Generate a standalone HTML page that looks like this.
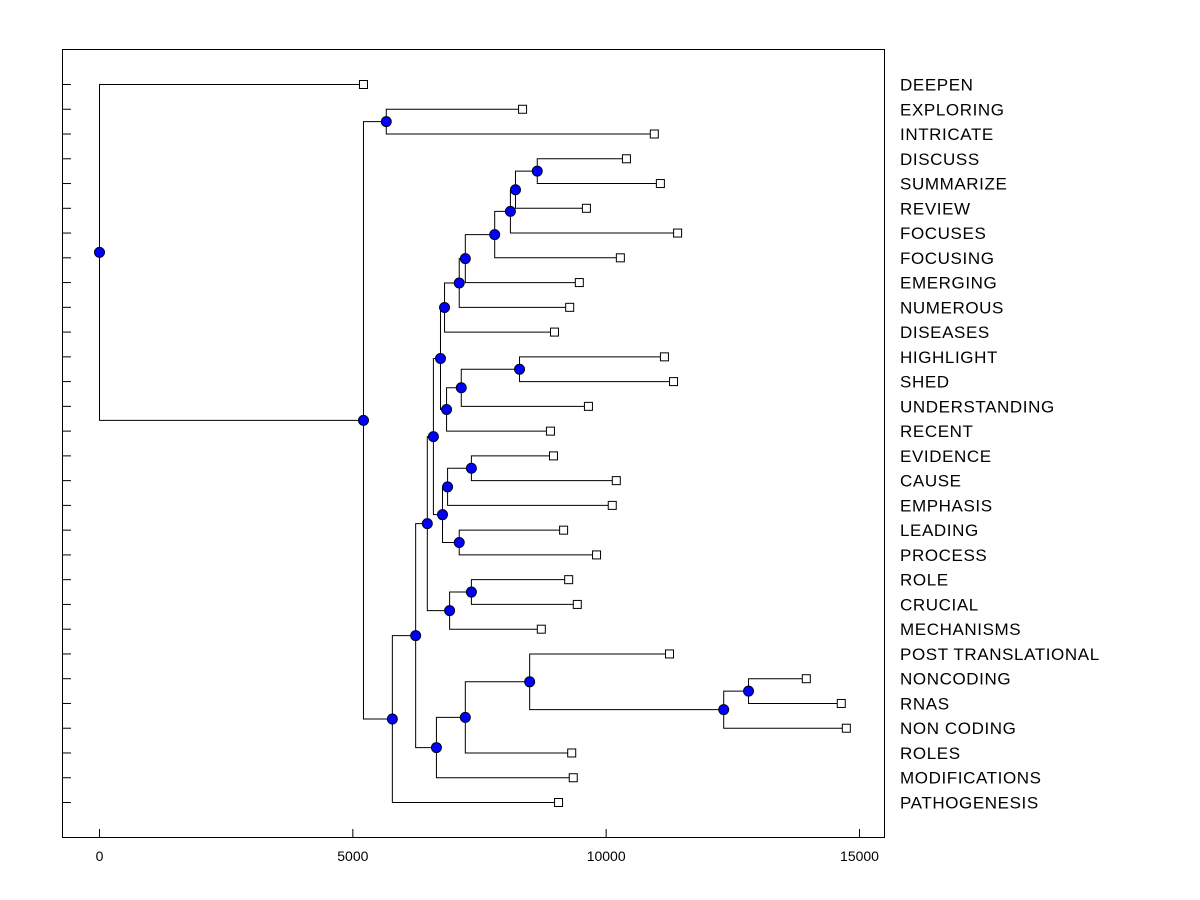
<!DOCTYPE html>
<html><head><meta charset="utf-8"><style>
body{margin:0;background:#fff;}
svg{display:block;font-family:"Liberation Sans",Arial,sans-serif;}
</style></head><body>
<svg id="chart" width="1200" height="900" viewBox="0 0 1200 900" xmlns="http://www.w3.org/2000/svg">
<rect x="62.5" y="49.5" width="822" height="788" fill="#fff" stroke="#000" stroke-width="1"/>
<g id="g"></g>
</svg>
<script>
const leaves=["DEEPEN","EXPLORING","INTRICATE","DISCUSS","SUMMARIZE","REVIEW","FOCUSES","FOCUSING","EMERGING","NUMEROUS","DISEASES","HIGHLIGHT","SHED","UNDERSTANDING","RECENT","EVIDENCE","CAUSE","EMPHASIS","LEADING","PROCESS","ROLE","CRUCIAL","MECHANISMS","POST TRANSLATIONAL","NONCODING","RNAS","NON CODING","ROLES","MODIFICATIONS","PATHOGENESIS"];
const leafValues=[5210,8350,10950,10400,11070,9610,11410,10280,9470,9280,8980,11150,11330,9650,8900,8960,10200,10120,9160,9810,9260,9430,8720,11250,13950,14640,14740,9320,9350,9060];
const nodeNames=["R","Q","P","O","N","M","K","T","S","L","I","W","U","V","J","G","X","H","E","AB","AA","Z","Y","F","D","C","B","A","ROOT"];
const nodeValues=[8640,8210,8110,7800,7220,7100,6810,8290,7140,6850,6730,7340,6870,7100,6770,6590,7340,6910,6470,12810,12320,8490,7220,6650,6240,5780,5660,5210,0];
const nodeChildren=[["DISCUSS","SUMMARIZE"],["R","REVIEW"],["Q","FOCUSES"],["P","FOCUSING"],["O","EMERGING"],["N","NUMEROUS"],["M","DISEASES"],["HIGHLIGHT","SHED"],["T","UNDERSTANDING"],["S","RECENT"],["K","L"],["EVIDENCE","CAUSE"],["W","EMPHASIS"],["LEADING","PROCESS"],["U","V"],["I","J"],["ROLE","CRUCIAL"],["X","MECHANISMS"],["G","H"],["NONCODING","RNAS"],["AB","NON CODING"],["POST TRANSLATIONAL","AA"],["Z","ROLES"],["Y","MODIFICATIONS"],["E","F"],["D","PATHOGENESIS"],["EXPLORING","INTRICATE"],["B","C"],["DEEPEN","A"]];
const xTicks=[0,5000,10000,15000];

const X=v=>99.5+v*(859.5-99.5)/15000;
const Yi=i=>84.5+i*(802.5-84.5)/29;
const g=document.getElementById('g');
const NS="http://www.w3.org/2000/svg";
function mk(t,a){const e=document.createElementNS(NS,t);for(const k in a)e.setAttribute(k,a[k]);g.appendChild(e);return e;}
const pos={};
leaves.forEach((n,i)=>{pos[n]={x:X(leafValues[i]),y:Yi(i)};});
nodeNames.forEach((n,i)=>{const a=pos[nodeChildren[i][0]],b=pos[nodeChildren[i][1]];pos[n]={x:X(nodeValues[i]),y:(a.y+b.y)/2};});
leaves.forEach((n,i)=>{
 const y=Yi(i);
 const t=mk('line',{x1:62.5,x2:71,y1:y,y2:y,stroke:'#000'});
 
 
 const l=mk('text',{x:900,y:y+6,'font-size':17,'letter-spacing':0.6,fill:'#000'});
 l.textContent=n;
 
 
});
xTicks.forEach(v=>{
 const x=X(v);
 const t=mk('line',{x1:x,x2:x,y1:837.5,y2:829,stroke:'#000'});
 
 
 const l=mk('text',{x:x,y:861,'font-size':14,'text-anchor':'middle',fill:'#000'});
 l.textContent=v;
 
 
});
nodeNames.forEach((n,i)=>{
 const p=pos[n];
 nodeChildren[i].forEach(c=>{
  const q=pos[c];
  const e=mk('polyline',{points:`${p.x},${p.y} ${p.x},${q.y} ${q.x},${q.y}`,fill:'none',stroke:'#000','stroke-width':1});
  
  
 });
});
leaves.forEach(n=>{
 const p=pos[n];
 const r=mk('rect',{x:p.x-4,y:p.y-4,width:8,height:8,fill:'#fff',stroke:'#000'});
 
 
});
nodeNames.forEach(n=>{
 const p=pos[n];
 const c=mk('circle',{cx:p.x,cy:p.y,r:5,fill:'#0000ff',stroke:'#000020','stroke-width':1});
 
 
});
</script>
</body></html>
